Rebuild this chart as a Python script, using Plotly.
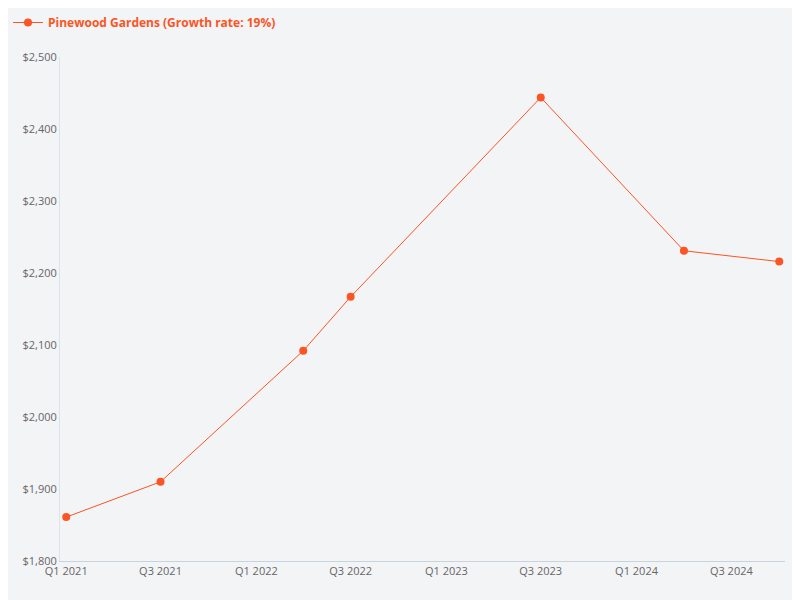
import plotly.graph_objects as go

dates = ["2021-01-01", "2021-07-01", "2022-04-01", "2022-07-01", "2023-07-01", "2024-04-01", "2024-10-01"]
values = [1861, 1910, 2092, 2167, 2444, 2231, 2216]
tick_vals = ["2021-01-01", "2021-07-01", "2022-01-01", "2022-07-01", "2023-01-01", "2023-07-01", "2024-01-01", "2024-07-01"]
tick_text = ["Q1 2021", "Q3 2021", "Q1 2022", "Q3 2022", "Q1 2023", "Q3 2023", "Q1 2024", "Q3 2024"]
color = "#fc5424"

fig = go.Figure(go.Scatter(
    x=dates, y=values, mode="lines+markers",
    name="<b>Pinewood Gardens (Growth rate: 19%)</b>",
    line=dict(color=color, width=1), marker=dict(color=color, size=8)))

fig.update_layout(
    width=800, height=600,
    paper_bgcolor="#f3f4f6", plot_bgcolor="#f3f4f6",
    font=dict(family="Open Sans", size=11, color="#666"),
    margin=dict(l=52, r=23, t=42, b=47),
    showlegend=True,
    legend=dict(x=0, y=1, xref="container", yref="container", xanchor="left", yanchor="top",
                orientation="h", font=dict(color=color, size=12, family="Open Sans"),
                itemwidth=30),
    xaxis=dict(type="date", range=["2020-12-20", "2024-10-12"], tickvals=tick_vals, ticktext=tick_text,
               showgrid=False, showline=True, linecolor="#c9d3de", ticks="", zeroline=False),
    yaxis=dict(range=[1800, 2500], dtick=100, tickprefix="$", tickformat=",",
               showgrid=False, showline=True, linecolor="#dde3ea", zeroline=False),
)
fig.write_html("out.html")
